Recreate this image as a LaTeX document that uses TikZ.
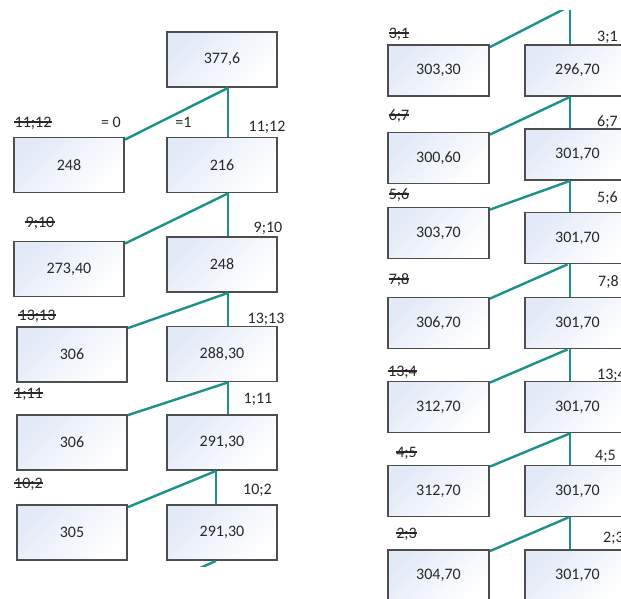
\documentclass[tikz,border=0pt]{standalone}
\usepackage{fontspec}
\setmainfont{Carlito}
\definecolor{teal1}{RGB}{28,145,136}
\definecolor{boxedge}{RGB}{78,78,78}
\definecolor{boxblue}{RGB}{226,233,247}
\definecolor{txt}{RGB}{40,40,40}
\newcommand{\strk}[3]{\node[lbl] (#1) at #2 {#3}; \draw[strikeln] (#1.west) -- (#1.east);}
\begin{document}
\begin{tikzpicture}[x=1pt,y=-1pt,
 box/.style={draw=boxedge, line width=1.8pt, top color=boxblue, bottom color=white, shading angle=45,
   minimum width=110pt, minimum height=55pt, inner sep=0pt, font=\fontsize{16}{19}\selectfont, text=txt},
 rbox/.style={box, minimum width=101pt, minimum height=51pt},
 rbox2/.style={box, minimum width=105pt, minimum height=51pt},
 lbl/.style={inner sep=0pt, text height=10pt, text depth=0pt, font=\fontsize{16}{19}\selectfont, text=txt},
 strikeln/.style={line width=1.1pt, draw=txt},
 link/.style={draw=teal1, line width=2.4pt}]
\useasboundingbox (0,0) rectangle (621,598);
\clip (0,0) rectangle (621,598);
\fill[white] (0,0) rectangle (621,598);

% left column
\node[box] (r0) at (222,59.5) {377,6};
\node[box] (a1) at (69,165) {248};
\node[box] (b1) at (222,165) {216};
\node[box] (a2) at (69,269) {273,40};
\node[box] (b2) at (222,264.5) {248};
\node[box] (a3) at (72,354.5) {306};
\node[box] (b3) at (222,354) {288,30};
\node[box] (a4) at (72,442.5) {306};
\node[box] (b4) at (222,442.5) {291,30};
\node[box] (a5) at (72,532.5) {305};
\node[box] (b5) at (222,532.5) {291,30};

\draw[link] ([xshift=6pt]r0.south) -- ([yshift=-3pt]a1.north east);
\draw[link] ([xshift=6pt]r0.south) -- ([xshift=6pt]b1.north);
\draw[link] ([xshift=6pt]b1.south) -- ([yshift=-3pt]a2.north east);
\draw[link] ([xshift=6pt]b1.south) -- ([xshift=6pt]b2.north);
\draw[link] ([xshift=6pt]b2.south) -- ([yshift=-2pt]a3.north east);
\draw[link] ([xshift=6pt]b2.south) -- ([xshift=6pt]b3.north);
\draw[link] ([xshift=6pt]b3.south) -- ([yshift=-1pt]a4.north east);
\draw[link] ([xshift=6pt]b3.south) -- ([xshift=6pt]b4.north);
\draw[link] ([xshift=-6pt]b4.south) -- ([yshift=-3pt]a5.north east);
\draw[link] ([xshift=-6pt]b4.south) -- ([xshift=-6pt]b5.north);
\coordinate (stubend) at (128,600);
\begin{scope}
\clip (0,560) rectangle (621,566);
\draw[link] ([xshift=-6pt]b5.south) -- (stubend);
\end{scope}

\strk{s1}{(33,122)}{11;12}
\node[lbl] (e0) at (111,122) {= 0};
\node[lbl] (e1) at (183.5,122) {=1};
\node[lbl] (t1) at (267,126) {11;12};
\strk{s2}{(40,222)}{9;10}
\node[lbl] (t2) at (268,227) {9;10};
\strk{s3}{(37,315)}{13;13}
\node[lbl] (t3) at (266,318) {13;13};
\strk{s4}{(28.5,393)}{1;11}
\node[lbl] (t4) at (258,398) {1;11};
\strk{s5}{(28.5,483)}{10;2}
\node[lbl] (t5) at (257.5,489) {10;2};

% right column
\node[rbox] (c1) at (438.5,70.5) {303,30};
\node[rbox2] (d1) at (577.5,70.5) {296,70};
\node[rbox] (c2) at (438.5,158) {300,60};
\node[rbox2] (d2) at (577.5,154.5) {301,70};
\node[rbox] (c3) at (438.5,233) {303,70};
\node[rbox2] (d3) at (577.5,238) {301,70};
\node[rbox] (c4) at (438.5,323) {306,70};
\node[rbox2] (d4) at (577.5,323) {301,70};
\node[rbox] (c5) at (438.5,407) {312,70};
\node[rbox2] (d5) at (577.5,407) {301,70};
\node[rbox] (c6) at (438.5,491) {312,70};
\node[rbox2] (d6) at (577.5,491) {301,70};
\node[rbox] (c7) at (438.5,575.5) {304,70};
\node[rbox2] (d7) at (577.5,575.5) {301,70};

\coordinate (rtop) at (570,6);
\begin{scope}
\clip (0,10) rectangle (621,598);
\draw[link] (rtop) -- ([yshift=-3pt]c1.north east);
\draw[link] (rtop) -- ([xshift=-7.5pt]d1.north);
\end{scope}
\draw[link] ([xshift=-7.5pt]d1.south) -- ([yshift=-3pt]c2.north east);
\draw[link] ([xshift=-7.5pt]d1.south) -- ([xshift=-7.5pt]d2.north);
\draw[link] ([xshift=-7.5pt]d2.south) -- ([yshift=-3pt]c3.north east);
\draw[link] ([xshift=-7.5pt]d2.south) -- ([xshift=-7.5pt]d3.north);
\draw[link] ([xshift=-10pt]d3.south) -- ([yshift=-2pt]c4.north east);
\draw[link] ([xshift=-7.5pt]d3.south) -- ([xshift=-7.5pt]d4.north);
\draw[link] ([xshift=-10pt]d4.south) -- ([yshift=-2pt]c5.north east);
\draw[link] ([xshift=-7.5pt]d4.south) -- ([xshift=-7.5pt]d5.north);
\draw[link] ([xshift=-7.5pt]d5.south) -- ([yshift=-2pt]c6.north east);
\draw[link] ([xshift=-7.5pt]d5.south) -- ([xshift=-7.5pt]d6.north);
\draw[link] ([xshift=-9pt]d6.south) -- ([yshift=-2pt]c7.north east);
\draw[link] ([xshift=-7.5pt]d6.south) -- ([xshift=-7.5pt]d7.north);

\strk{u1}{(399,33)}{3;1}
\node[lbl,anchor=west] (v1) at (597,36) {3;1};
\strk{u2}{(399,115)}{6;7}
\node[lbl,anchor=west] (v2) at (597,121) {6;7};
\strk{u3}{(399,194)}{5;6}
\node[lbl,anchor=west] (v3) at (597,197) {5;6};
\strk{u4}{(399,279)}{7;8}
\node[lbl,anchor=west] (v4) at (598,281) {7;8};
\strk{u5}{(402.5,371)}{13;4}
\node[lbl,anchor=west] (v5) at (597,374) {13;4};
\strk{u6}{(406.5,452)}{4;5}
\node[lbl,anchor=west] (v6) at (595,455) {4;5};
\strk{u7}{(406.5,533)}{2;3}
\node[lbl,anchor=west] (v7) at (603,537) {2;3};
\end{tikzpicture}
\end{document}
